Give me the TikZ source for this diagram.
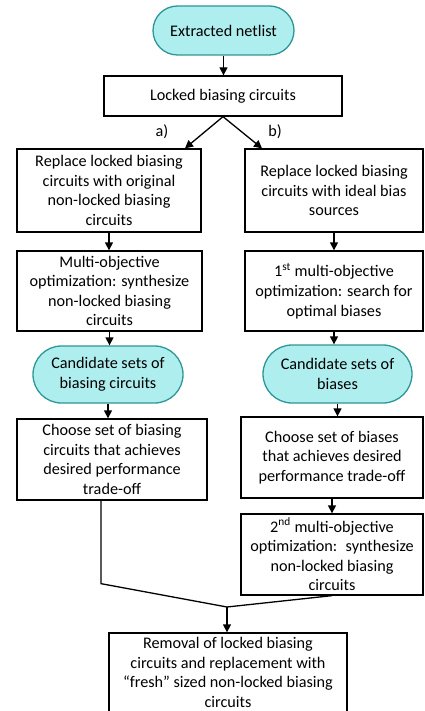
\documentclass[tikz,border=0pt]{standalone}
\usepackage{fontspec}
\setmainfont{Carlito}
\usetikzlibrary{arrows.meta,shapes.misc}
\definecolor{termfill}{RGB}{175,238,238}
\definecolor{termline}{RGB}{45,150,150}

\tikzset{
    stepbox/.style n args={2}{draw, line width=1.3pt, minimum width=#1, minimum height=#2},
    terminal/.style n args={2}{rounded rectangle, draw=termline, fill=termfill, line width=1.3pt, minimum width=#1, minimum height=#2},
    arrow/.style={line width=1.3pt, -{Triangle[length=8pt,width=8pt]}}
}

\begin{document}
\begin{tikzpicture}[x=1pt, y=-1pt,
    every node/.style={font=\fontsize{16.2}{19.6}\selectfont, align=center, inner sep=0pt}]

\useasboundingbox (0,0) rectangle (424,711);

\node[terminal={141}{49}] (netlist) at (223.5,30.5) {Extracted netlist};
\node[stepbox={238}{40}] (locked) at (223,96) {Locked biasing circuits};

% left branch
\node[stepbox={184}{83}] (L1) at (109,190.5) {Replace locked biasing\\circuits with original\\non-locked biasing\\circuits};
\node[stepbox={185}{80}] (L2) at (109.5,291) {Multi-objective\\optimization: synthesize\\non-locked biasing\\circuits};
\node[terminal={150}{57}] (LT) at (108,374.5) {Candidate sets of\\biasing circuits};
\node[stepbox={190}{81}] (L3) at (112,459.5) {Choose set of biasing\\circuits that achieves\\desired performance\\trade-off};

% right branch
\node[stepbox={178}{83}] (R1) at (334,190.5) {Replace locked biasing\\circuits with ideal bias\\sources};
\node[stepbox={178}{80}] (R2) at (334,291) {1\textsuperscript{st} multi-objective\\optimization: search for\\optimal biases};
\node[terminal={149}{58}] (RT) at (337.5,374) {Candidate sets of\\biases};
\node[stepbox={182}{81}] (R3) at (332,457.5) {Choose set of biases\\that achieves desired\\performance trade-off};
\node[stepbox={182}{81}] (R4) at (332,554.5) {2\textsuperscript{nd} multi-objective\\optimization:~ synthesize\\non-locked biasing\\circuits};

\node[stepbox={238}{79}] (final) at (228,672.5) {Removal of locked biasing\\circuits and replacement with\\“fresh” sized non-locked biasing\\circuits};

\node (lbla) at (162,132) {a)};
\node (lblb) at (275,132) {b)};

\foreach \a/\b in {netlist/locked, L1/L2, L2/LT, LT/L3, R1/R2, R2/RT, RT/R3, R3/R4}
    \draw[arrow] (\a.south) -- (\a.south |- \b.north);

\draw[arrow] (locked.south) -- ([xshift=76pt]L1.north);
\draw[arrow] (locked.south) -- ([xshift=-72pt]R1.north);

\coordinate (join) at (227,607);
\draw[line width=1.3pt] ([xshift=-11pt]L3.south) -- ++(0,83) -- (join);
\draw[line width=1.3pt] (R4.south) -- (join);
\draw[arrow] (join) -- (join |- final.north);

\end{tikzpicture}
\end{document}
